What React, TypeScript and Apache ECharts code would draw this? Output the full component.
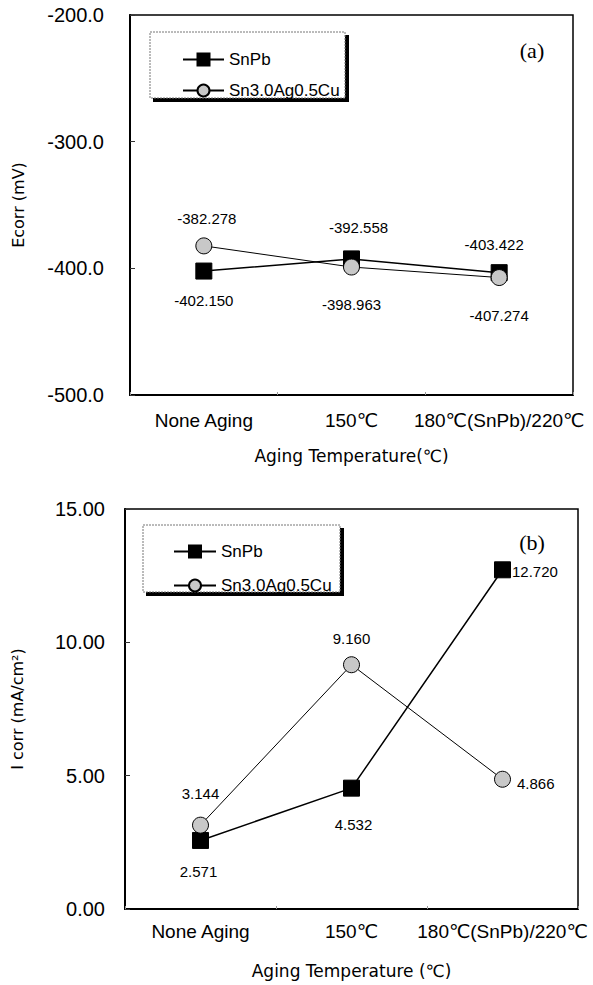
import React, { useEffect, useRef } from "react";
import * as echarts from "echarts";

// ---- data ----
const categories = ["None Aging", "150℃", "180℃(SnPb)/220℃"];
const seriesNames = ["SnPb", "Sn3.0Ag0.5Cu"];
const ecorrSnPb = [-402.15, -392.558, -403.422];
const ecorrSnAg = [-382.278, -398.963, -407.274];
const icorrSnPb = [2.571, 4.532, 12.72];
const icorrSnAg = [3.144, 9.16, 4.866];
const ecorrAxis = [-500, -200, 100]; // min, max, interval
const icorrAxis = [0, 15, 5];

// ---- label placement (style) ----
type Place = { pos: string; dist: number; off: number[] };
const ecorrSnPbPlace: Place[] = [
  { pos: "bottom", dist: 13, off: [0, 0] },
  { pos: "top", dist: 15, off: [7, 0] },
  { pos: "top", dist: 12, off: [-5, 0] },
];
const ecorrSnAgPlace: Place[] = [
  { pos: "top", dist: 11, off: [3, 0] },
  { pos: "bottom", dist: 21, off: [0, 0] },
  { pos: "bottom", dist: 22, off: [0, 0] },
];
const icorrSnPbPlace: Place[] = [
  { pos: "bottom", dist: 15, off: [-2, 0] },
  { pos: "bottom", dist: 20, off: [2, 0] },
  { pos: "right", dist: 1, off: [0, 2] },
];
const icorrSnAgPlace: Place[] = [
  { pos: "top", dist: 16, off: [0, 0] },
  { pos: "top", dist: 10, off: [0, 0] },
  { pos: "right", dist: 6, off: [0, 4] },
];

const SANS = "'Liberation Sans', Arial, 'DejaVu Sans', 'Noto Sans CJK KR', sans-serif";
const WIDE = "'DejaVu Sans', 'Noto Sans CJK KR', sans-serif";

function makeSeries(
  name: string,
  values: number[],
  idx: number,
  symbol: string,
  fill: string,
  lineWidth: number,
  places: Place[],
  size: number
) {
  return {
    type: "line",
    name,
    xAxisIndex: idx,
    yAxisIndex: idx,
    symbol,
    symbolSize: size,
    data: values.map((v, i) => ({
      value: v,
      label: {
        show: true,
        position: places[i].pos,
        distance: places[i].dist,
        offset: places[i].off,
      },
    })),
    itemStyle: { color: fill, borderColor: "#000", borderWidth: 1 },
    lineStyle: { color: "#000", width: lineWidth },
    label: {
      show: true,
      formatter: (p: any) => Number(p.value).toFixed(3),
      fontSize: 15,
      color: "#000",
      fontFamily: SANS,
    },
    emphasis: { disabled: true },
    z: symbol === "rect" ? 3 : 4,
  };
}

function xAxisCfg(idx: number, name: string, margin: number, nameGap: number) {
  return {
    type: "category",
    gridIndex: idx,
    data: categories,
    boundaryGap: true,
    axisLine: { show: true, lineStyle: { color: "#000", width: 2 } },
    axisTick: { show: true, inside: true, length: 3, lineStyle: { color: "#999" } },
    axisLabel: { interval: 0, fontSize: 19, color: "#000", margin, fontFamily: SANS },
    name,
    nameLocation: "middle",
    nameGap,
    nameTextStyle: { fontSize: 17, color: "#000", fontFamily: WIDE },
  };
}

function yAxisCfg(
  idx: number,
  axis: number[],
  digits: number,
  name: string,
  margin: number,
  nameGap: number
) {
  return {
    type: "value",
    gridIndex: idx,
    min: axis[0],
    max: axis[1],
    interval: axis[2],
    axisLine: { show: true, lineStyle: { color: "#000", width: 2 } },
    axisTick: { show: true, inside: true, length: 5, lineStyle: { color: "#333" } },
    splitLine: { show: false },
    axisLabel: {
      formatter: (v: number) => v.toFixed(digits),
      fontSize: 20,
      color: "#000",
      margin,
      fontFamily: SANS,
    },
    name,
    nameLocation: "middle",
    nameGap,
    nameTextStyle: { fontSize: 16, color: "#000", fontFamily: WIDE },
  };
}

function legendBox(x: number, y: number, w: number, h: number) {
  return [
    { type: "rect", z: 10, shape: { x: x + w, y: y + 3, width: 4, height: h + 1 }, style: { fill: "#000" } },
    { type: "rect", z: 10, shape: { x: x + 3, y: y + h, width: w + 1, height: 4 }, style: { fill: "#000" } },
    {
      type: "rect",
      z: 11,
      shape: { x, y, width: w, height: h },
      style: { fill: "#fff", stroke: "#777", lineWidth: 1, lineDash: [2, 1] },
    },
  ];
}

export default function App() {
  const ref = useRef<HTMLDivElement>(null);
  useEffect(() => {
    if (!ref.current) return;
    const chart = echarts.init(ref.current, undefined, { renderer: "svg" });
    const legendText = { fontSize: 17, color: "#000", fontFamily: SANS };
    const serif = "'Liberation Serif', 'DejaVu Serif', serif";
    chart.setOption({
      animation: false,
      backgroundColor: "#fff",
      grid: [
        { left: 130, top: 15, width: 443, height: 380, show: true, borderColor: "#000", borderWidth: 1.5 },
        { left: 125, top: 509, width: 453, height: 400, show: true, borderColor: "#000", borderWidth: 1.5 },
      ],
      xAxis: [
        xAxisCfg(0, "Aging Temperature(℃)", 16, 52),
        xAxisCfg(1, "Aging Temperature (℃)", 13, 53),
      ],
      yAxis: [
        yAxisCfg(0, ecorrAxis, 1, "Ecorr (mV)", 26, 104),
        yAxisCfg(1, icorrAxis, 2, "I corr (mA/cm²)", 20, 100),
      ],
      legend: [
        {
          z: 20,
          orient: "vertical",
          left: 177,
          top: 46,
          itemWidth: 41,
          itemHeight: 15,
          itemGap: 14,
          selectedMode: false,
          textStyle: legendText,
          data: seriesNames,
        },
        {
          z: 20,
          orient: "vertical",
          left: 168,
          top: 538,
          itemWidth: 42,
          itemHeight: 15,
          itemGap: 17,
          selectedMode: false,
          textStyle: legendText,
          data: seriesNames,
        },
      ],
      graphic: [
        ...legendBox(150, 32, 195, 66),
        ...legendBox(143, 525, 197, 67),
        {
          type: "text",
          x: 532,
          y: 50,
          z: 12,
          style: { text: "(a)", fontSize: 22, fontFamily: serif, fill: "#000", textAlign: "center", textVerticalAlign: "middle" },
        },
        {
          type: "text",
          x: 532,
          y: 542,
          z: 12,
          style: { text: "(b)", fontSize: 22, fontFamily: serif, fill: "#000", textAlign: "center", textVerticalAlign: "middle" },
        },
      ],
      series: [
        makeSeries(seriesNames[0], ecorrSnPb, 0, "rect", "#000", 1.5, ecorrSnPbPlace, 16),
        makeSeries(seriesNames[1], ecorrSnAg, 0, "circle", "#c8c8c8", 1, ecorrSnAgPlace, 16),
        makeSeries(seriesNames[0], icorrSnPb, 1, "rect", "#000", 1.5, icorrSnPbPlace, 16),
        makeSeries(seriesNames[1], icorrSnAg, 1, "circle", "#c8c8c8", 1, icorrSnAgPlace, 16),
      ],
    });
    return () => chart.dispose();
  }, []);
  return (
    <div
      ref={ref}
      style={{ position: "absolute", left: 0, top: 0, width: 593, height: 985, background: "#fff" }}
    />
  );
}
